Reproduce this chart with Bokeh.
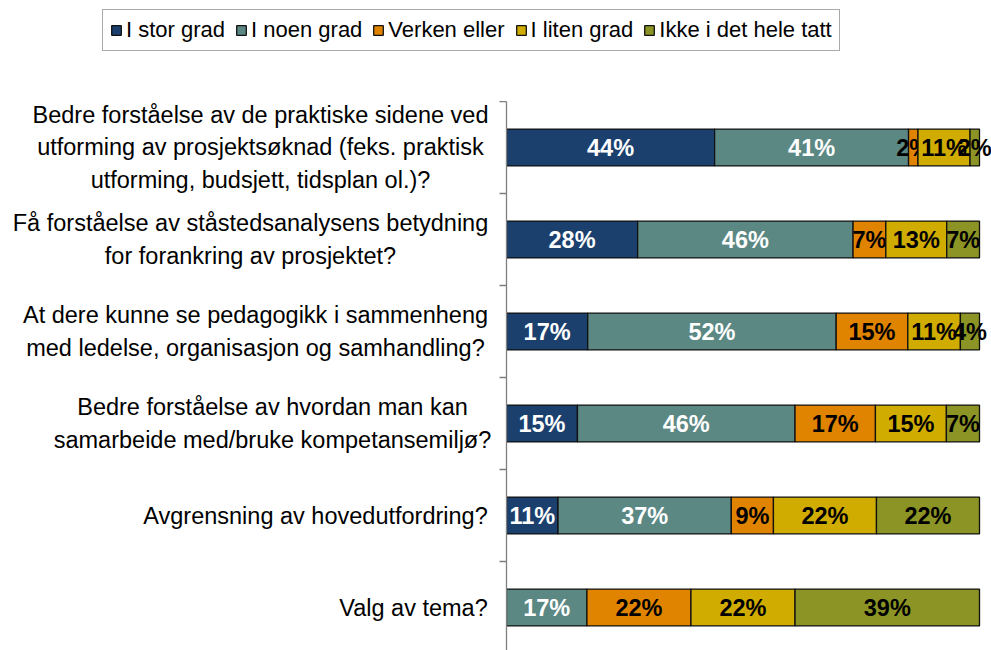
from bokeh.plotting import figure
from bokeh.layouts import column, row
from bokeh.models import ColumnDataSource, FixedTicker, Range1d, Legend, LegendItem
from bokeh.embed import file_html
from bokeh.resources import INLINE
from bokeh.core.properties import value

categories = [
    "Bedre forståelse av de praktiske sidene ved\nutforming av prosjektsøknad (feks. praktisk\nutforming, budsjett, tidsplan ol.)?",
    "Få forståelse av ståstedsanalysens betydning\nfor forankring av prosjektet?",
    "At dere kunne se pedagogikk i sammenheng\nmed ledelse, organisasjon og samhandling?",
    "Bedre forståelse av hvordan man kan\nsamarbeide med/bruke kompetansemiljø?",
    "Avgrensning av hovedutfordring?",
    "Valg av tema?",
]
series_names = ["I stor grad", "I noen grad", "Verken eller", "I liten grad", "Ikke i det hele tatt"]
i_stor_grad = [44, 28, 17, 15, 11, 0]
i_noen_grad = [41, 46, 52, 46, 37, 17]
verken_eller = [2, 7, 15, 17, 9, 22]
i_liten_grad = [11, 13, 11, 15, 22, 22]
ikke_i_det_hele_tatt = [2, 7, 4, 7, 22, 39]

series_values = [i_stor_grad, i_noen_grad, verken_eller, i_liten_grad, ikke_i_det_hele_tatt]
colors = ["#1B406E", "#5C8884", "#E08400", "#D0AC00", "#8B9424"]
label_colors = ["white", "white", "black", "black", "black"]

# layout (screen px): horizontal centre of each category label block in the label panel
label_centers_px = [260, 250, 255, 272, 315, 413]

FONT = "Liberation Sans"
FS = "23.5px"
n = len(categories)
y_centers = [n - 0.5 - i for i in range(n)]
totals = [sum(s[i] for s in series_values) for i in range(n)]

PLOT_H = 549
UNIT = 92
y_range = Range1d(n - PLOT_H / UNIT, n)


def clean(f):
    f.outline_line_color = None
    f.xgrid.visible = False
    f.ygrid.visible = False
    f.background_fill_color = "white"
    f.border_fill_color = "white"
    return f


# ---- main chart ----
p = clean(figure(width=493, height=PLOT_H, output_backend="svg", toolbar_location=None,
                 x_axis_location=None, y_axis_location="left",
                 x_range=Range1d(0, 485 / 473), y_range=y_range,
                 min_border_left=8, min_border_right=0, min_border_top=0, min_border_bottom=0))

cum = [0.0] * n
for name, vals, col, lcol in zip(series_names, series_values, colors, label_colors):
    left = [cum[i] for i in range(n)]
    right = [cum[i] + vals[i] / totals[i] for i in range(n)]
    src = ColumnDataSource(dict(y=y_centers, left=left, right=right))
    p.hbar(y="y", left="left", right="right", height=0.4, source=src,
           fill_color=col, line_color="#111111", line_width=1.3)
    keep = [i for i in range(n) if vals[i] > 0]
    lsrc = ColumnDataSource(dict(
        x=[(left[i] + right[i]) / 2 for i in keep],
        y=[y_centers[i] for i in keep],
        t=[f"{vals[i]}%" for i in keep]))
    p.text(x="x", y="y", text="t", source=lsrc, text_align="center", text_baseline="middle",
           text_font=value(FONT), text_font_style="bold", text_font_size=FS,
           text_color=lcol)
    cum = right

ax = p.yaxis[0]
ax.ticker = FixedTicker(ticks=[], minor_ticks=list(range(0, n + 1)))
ax.major_label_standoff = 0
ax.axis_line_color = "#7f7f7f"
ax.axis_line_width = 1.3
ax.major_tick_line_color = None
ax.major_tick_out = 0
ax.major_tick_in = 0
ax.minor_tick_line_color = "#7f7f7f"
ax.minor_tick_line_width = 1.3
ax.minor_tick_out = 7
ax.minor_tick_in = 0

# ---- category labels panel ----
lab = clean(figure(width=498, height=PLOT_H, output_backend="svg", toolbar_location=None,
                   x_axis_location=None, y_axis_location=None,
                   x_range=Range1d(0, 498), y_range=y_range,
                   min_border_left=0, min_border_right=0, min_border_top=0, min_border_bottom=0))
lab.text(x=label_centers_px, y=y_centers, text=categories, text_align="center",
         text_baseline="middle", text_font=value(FONT), text_font_size=FS,
         text_color="black", text_line_height=1.26)

# ---- legend panel ----
leg = clean(figure(width=991, height=101, output_backend="svg", toolbar_location=None,
                   x_axis_location=None, y_axis_location=None,
                   x_range=Range1d(0, 1), y_range=Range1d(0, 1),
                   min_border_left=0, min_border_right=0, min_border_top=0, min_border_bottom=0))
dummies = []
for col in colors:
    # zero-size swatch renderers (hidden under the legend box), only used for the legend glyphs
    dummies.append(leg.hbar(y=[0.6], left=[0.5], right=[0.5], height=0,
                            fill_color=col, line_color="#111111", line_width=1.3))
legend = Legend(items=[LegendItem(label=nm, renderers=[r]) for nm, r in zip(series_names, dummies)],
                orientation="horizontal", location=(102, 50),
                label_text_font=FONT, label_text_font_size="22px", label_text_color="black",
                glyph_width=12, glyph_height=12, label_standoff=4, spacing=10,
                padding=7, margin=0, border_line_color="#555555", border_line_width=1,
                background_fill_color="white", background_fill_alpha=1.0)
leg.add_layout(legend, "center")

layout = column(leg, row(lab, p, spacing=0), spacing=0)
open("out.html", "w").write(file_html(layout, INLINE))
